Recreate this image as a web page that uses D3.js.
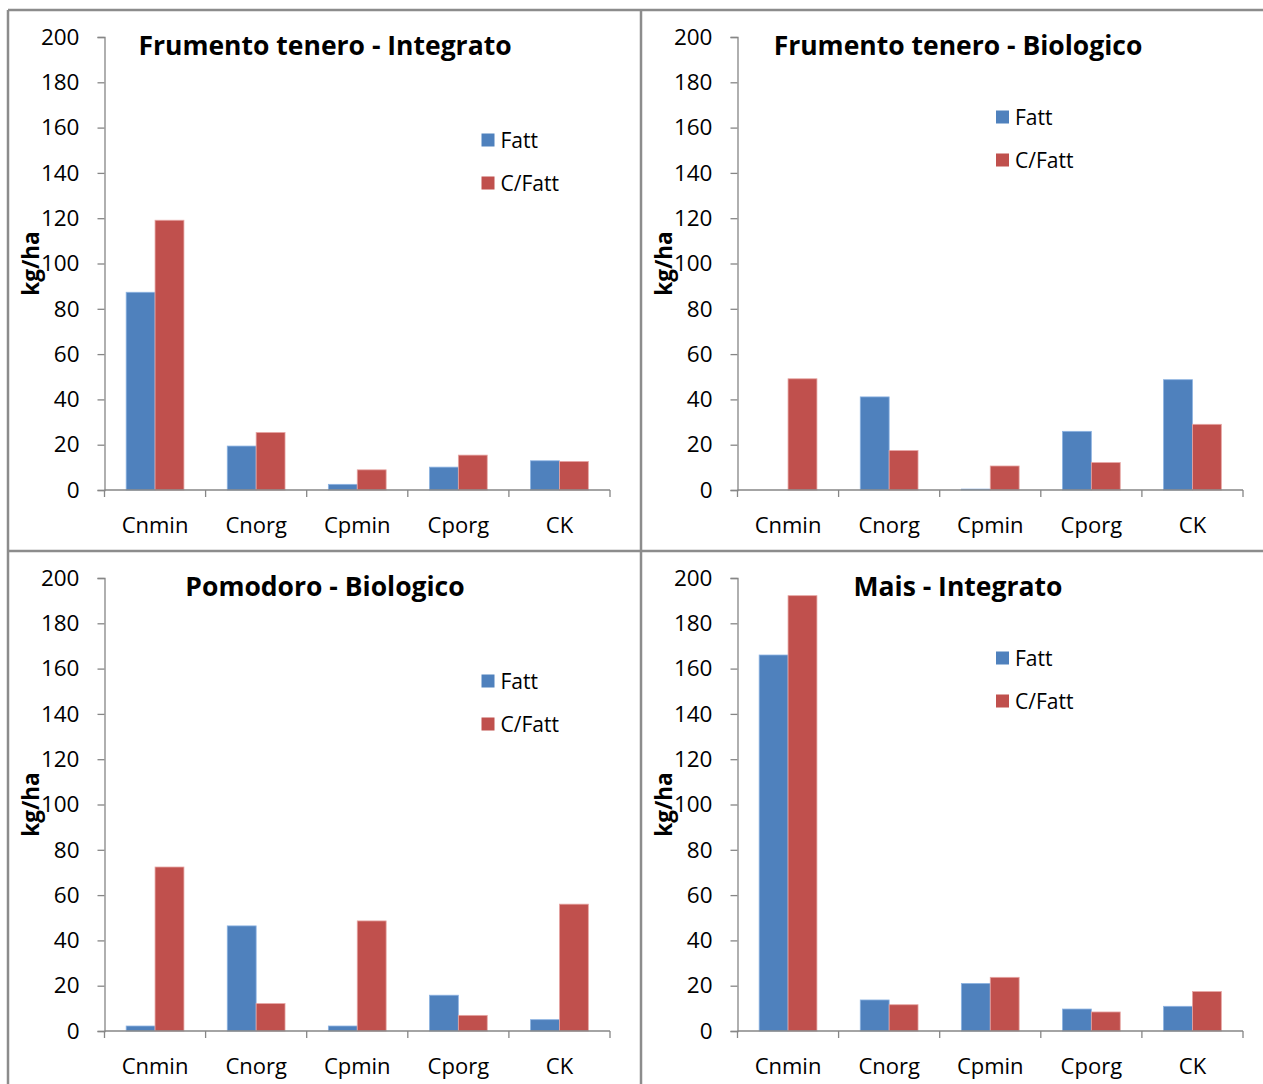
<!DOCTYPE html>
<html>
<head>
<meta charset="utf-8">
<script src="https://cdn.jsdelivr.net/npm/d3@7"></script>
<style>
  html, body { margin: 0; padding: 0; background: #ffffff; }
  svg { display: block; }
  text { font-family: "Open Sans", "Noto Sans", sans-serif; fill: #000; }
</style>
</head>
<body>
<svg id="chart" width="1263" height="1084"></svg>
<script>
// Categories and series shared by all four panels
const categories = ["Cnmin", "Cnorg", "Cpmin", "Cporg", "CK"];
const seriesNames = ["Fatt", "C/Fatt"];
const yTicks = [0, 20, 40, 60, 80, 100, 120, 140, 160, 180, 200];

// Panel titles
const titles = [
  "Frumento tenero - Integrato",
  "Frumento tenero - Biologico",
  "Pomodoro - Biologico",
  "Mais - Integrato"
];

// Values in kg/ha
const fattFrumentoInt  = [87.3, 19.4, 2.5, 10.1, 12.9];
const cfattFrumentoInt = [119.1, 25.4, 8.9, 15.4, 12.6];
const fattFrumentoBio  = [0, 41.1, 0.4, 25.9, 48.7];
const cfattFrumentoBio = [49.1, 17.4, 10.6, 12.1, 29.0];
const fattPomodoroBio  = [2.2, 46.4, 2.2, 15.8, 5.0];
const cfattPomodoroBio = [72.4, 12.1, 48.6, 6.9, 56.0];
const fattMaisInt      = [166.0, 13.7, 21.0, 9.7, 10.9];
const cfattMaisInt     = [192.2, 11.6, 23.7, 8.4, 17.4];

const panelSeries = [
  [fattFrumentoInt, cfattFrumentoInt],
  [fattFrumentoBio, cfattFrumentoBio],
  [fattPomodoroBio, cfattPomodoroBio],
  [fattMaisInt, cfattMaisInt]
];

const colors = ["#4F81BD", "#C0504D"];
const edgeColors = ["#8db3e2", "#e6a5a3"];
const axisColor = "#868686";
const borderColor = "#8c8c8c";

// Panel frames: columns and rows
const colX = [8, 641];
const rowY = [10, 551];
const legendOffsets = [130, 107, 130, 107];

const svg = d3.select("#chart");

// Outer frame and dividers
svg.append("line").attr("x1", colX[0]).attr("x2", 1263).attr("y1", rowY[0]).attr("y2", rowY[0])
  .attr("stroke", borderColor).attr("stroke-width", 2.5);
svg.append("line").attr("x1", colX[0]).attr("x2", 1263).attr("y1", rowY[1]).attr("y2", rowY[1])
  .attr("stroke", borderColor).attr("stroke-width", 2.5);
svg.append("line").attr("x1", colX[0]).attr("x2", colX[0]).attr("y1", rowY[0]).attr("y2", 1084)
  .attr("stroke", borderColor).attr("stroke-width", 2.5);
svg.append("line").attr("x1", colX[1]).attr("x2", colX[1]).attr("y1", rowY[0]).attr("y2", 1084)
  .attr("stroke", borderColor).attr("stroke-width", 2.5);

panelSeries.forEach((series, p) => {
  const ox = colX[p % 2];
  const oy = rowY[Math.floor(p / 2)];
  const left = ox + 96.5, right = ox + 602;
  const top = oy + 27, bottom = oy + 480;

  const g = svg.append("g");

  const y = d3.scaleLinear().domain([0, 200]).range([bottom, top]);
  const x0 = d3.scaleBand().domain(categories).range([left, right]).paddingInner(0).paddingOuter(0);
  const x1 = d3.scaleBand().domain(seriesNames).range([0, x0.bandwidth()])
    .paddingInner(0).paddingOuter(0.75);

  // Y axis
  const yAxis = g.append("g").attr("transform", `translate(${left},0)`)
    .call(d3.axisLeft(y).tickValues(yTicks).tickSize(7).tickPadding(18).tickFormat(d3.format("d")));
  yAxis.select(".domain").attr("stroke", axisColor).attr("stroke-width", 1.3);
  yAxis.selectAll(".tick line").attr("stroke", axisColor).attr("stroke-width", 1.3);
  yAxis.selectAll(".tick text").attr("font-size", 22.5).attr("font-family", "Open Sans").attr("fill", "#000");

  // Bars
  seriesNames.forEach((name, s) => {
    g.append("g").selectAll("rect")
      .data(categories.map((c, i) => ({ c, v: series[s][i] })))
      .join("rect")
      .attr("x", d => x0(d.c) + x1(name))
      .attr("y", d => y(d.v))
      .attr("width", x1.bandwidth())
      .attr("height", d => Math.max(0, bottom - y(d.v)))
      .attr("fill", colors[s])
      .attr("stroke", d => d.v > 0 ? edgeColors[s] : "none")
      .attr("stroke-width", 0.8);
  });

  // X axis with tick marks at category boundaries
  const xg = g.append("g");
  xg.append("line").attr("x1", left).attr("x2", right).attr("y1", bottom).attr("y2", bottom)
    .attr("stroke", axisColor).attr("stroke-width", 1.3);
  const bounds = categories.map(c => x0(c)).concat([right]);
  xg.selectAll("line.tk").data(bounds).join("line").attr("class", "tk")
    .attr("x1", d => d).attr("x2", d => d).attr("y1", bottom).attr("y2", bottom + 7)
    .attr("stroke", axisColor).attr("stroke-width", 1.3);
  xg.selectAll("text").data(categories).join("text")
    .attr("x", d => x0(d) + x0.bandwidth() / 2)
    .attr("y", bottom + 43)
    .attr("text-anchor", "middle")
    .attr("font-size", 22)
    .text(d => d);

  // Axis title
  g.append("text")
    .attr("transform", `translate(${ox + 22},${(top + bottom) / 2}) rotate(-90)`)
    .attr("text-anchor", "middle")
    .attr("dominant-baseline", "central")
    .attr("font-size", 22.5)
    .attr("font-weight", "bold")
    .text("kg/ha");

  // Title
  g.append("text")
    .attr("x", ox + 317)
    .attr("y", oy + 45)
    .attr("text-anchor", "middle")
    .attr("font-size", 26.5)
    .attr("font-weight", "bold")
    .text(titles[p]);

  // Legend
  const lx = p % 2 === 0 ? ox + 473.5 : ox + 355;
  const ly = oy + legendOffsets[p];
  seriesNames.forEach((name, s) => {
    const yy = ly + s * 43;
    g.append("rect").attr("x", lx).attr("y", yy - 6.5).attr("width", 13).attr("height", 13)
      .attr("fill", colors[s]);
    g.append("text").attr("x", lx + 19).attr("y", yy + 7.5)
      .attr("font-size", 21).text(name);
  });
});
</script>
</body>
</html>
